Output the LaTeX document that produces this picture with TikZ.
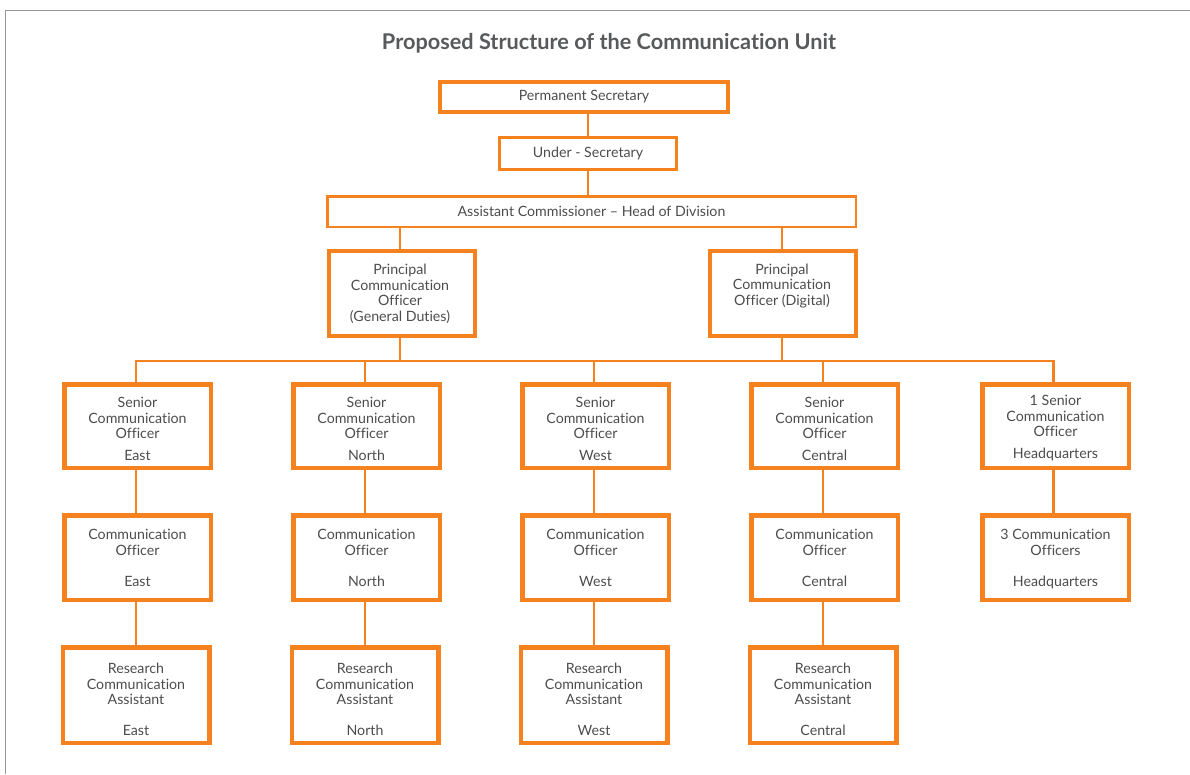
\documentclass[tikz,border=0pt]{standalone}
\usepackage{fontspec}
\setmainfont{Lato}[Ligatures=NoCommon]
\definecolor{orgorange}{RGB}{246,130,31}
\definecolor{txtgray}{RGB}{77,77,79}
\definecolor{titlegray}{RGB}{88,89,91}
\definecolor{framegray}{RGB}{150,150,150}
\begin{document}
\begin{tikzpicture}[x=1pt,y=-1pt,
  orgbox/.style={draw=orgorange, fill=white, inner sep=0pt},
  unitbox/.style={orgbox, line width=4.5pt, minimum width=146.5pt, minimum height=#1},
  txt/.style={text=txtgray, align=center, inner sep=0pt,
    font=\fontsize{14.2}{15.5}\selectfont},
  region/.style={txt, text height=10pt, text depth=0pt},
  link/.style={draw=orgorange, line width=2.8pt}
]
\useasboundingbox (0,0) rectangle (1190,774);

% page frame
\draw[framegray, line width=1.5pt] (1190,10.5) -- (5.5,10.5) -- (5.5,774);

% title
\node[text=titlegray, font=\fontsize{21.7}{24}\bfseries\selectfont] (title) at (609,43)
  {Proposed Structure of the Communication Unit};

% top of the hierarchy
\node[orgbox, line width=4pt, minimum width=288pt, minimum height=30pt] (ps) at (584,96.5) {};
\node[txt] (ps-t) at (ps.center) {Permanent Secretary};
\node[orgbox, line width=3pt, minimum width=177pt, minimum height=32pt] (us) at (588,153.5) {};
\node[txt] (us-t) at (us.center) {Under - Secretary};
\node[orgbox, line width=2.5pt, minimum width=528.5pt, minimum height=30.5pt] (ac) at (591.5,211.5) {};
\node[txt] (ac-t) at (ac.center) {Assistant Commissioner -- Head of Division};

\node[orgbox, line width=4pt, minimum width=146pt, minimum height=85pt] (pg) at (402,293.5) {};
\node[txt] (pg-t) at (400,294) {Principal\\Communication\\Officer\\(General Duties)};
\node[orgbox, line width=4pt, minimum width=146pt, minimum height=85pt] (pd) at (783,293.5) {};
\node[txt] (pd-t) at (782,286) {Principal\\Communication\\Officer (Digital)};

% regional units (canvas yshift: positive is upward)
\foreach \i/\x/\reg in {1/137.5/East,2/366.5/North,3/595.5/West,4/824.5/Central}{
  \node[unitbox=83.5pt] (se\i) at (\x,426) {};
  \node[txt] (se\i-t) at ([yshift=8pt]se\i.center) {Senior\\Communication\\Officer};
  \node[region] (se\i-r) at ([yshift=-29pt]se\i.center) {\reg};
  \node[unitbox=84.5pt] (co\i) at (\x,557.5) {};
  \node[txt] (co\i-t) at ([yshift=15pt]co\i.center) {Communication\\Officer};
  \node[region] (co\i-r) at ([yshift=-23.5pt]co\i.center) {\reg};
  \node[unitbox=95.5pt] (ra\i) at (\x-1.5,695) {};
  \node[txt] (ra\i-t) at ([yshift=11pt]ra\i.center) {Research\\Communication\\Assistant};
  \node[region] (ra\i-r) at ([yshift=-35pt]ra\i.center) {\reg};
}

% headquarters unit
\node[unitbox=83.5pt] (se5) at (1055.5,426) {};
\node[txt] (se5-t) at ([yshift=10pt]se5.center) {1 Senior\\Communication\\Officer};
\node[region] (se5-r) at ([yshift=-27pt]se5.center) {Headquarters};
\node[unitbox=84.5pt] (co5) at (1055.5,557.5) {};
\node[txt] (co5-t) at ([yshift=15pt]co5.center) {3 Communication\\Officers};
\node[region] (co5-r) at ([yshift=-23.5pt]co5.center) {Headquarters};

% connectors
\coordinate (bus) at (0,361);
\draw[link] (ps.south -| us.north) -- (us.north);
\draw[link] (us.south) -- (us.south |- ac.north);
\draw[link] (ac.south -| pg-t.north) -- (pg.north -| pg-t.north);
\draw[link] (ac.south -| pd-t.north) -- (pd.north -| pd-t.north);
\draw[link] (pg.south -| pg-t.north) -- (bus -| pg-t.north);
\draw[link] (pd.south -| pd-t.north) -- (bus -| pd-t.north);
\draw[link, line join=miter] (se1.north -| ra1.north) -- (bus -| ra1.north)
  -- (bus -| 1053.5,0) -- (se5.north -| 1053.5,0);
\foreach \i in {2,3,4}{
  \draw[link] (bus -| ra\i.north) -- (se\i.north -| ra\i.north);
}
\foreach \i in {1,2,3,4}{
  \draw[link] (se\i.south -| ra\i.north) -- (co\i.north -| ra\i.north);
  \draw[link] (co\i.south -| ra\i.north) -- (ra\i.north);
}
\draw[link] (se5.south -| 1053.5,0) -- (co5.north -| 1053.5,0);
\end{tikzpicture}
\end{document}
